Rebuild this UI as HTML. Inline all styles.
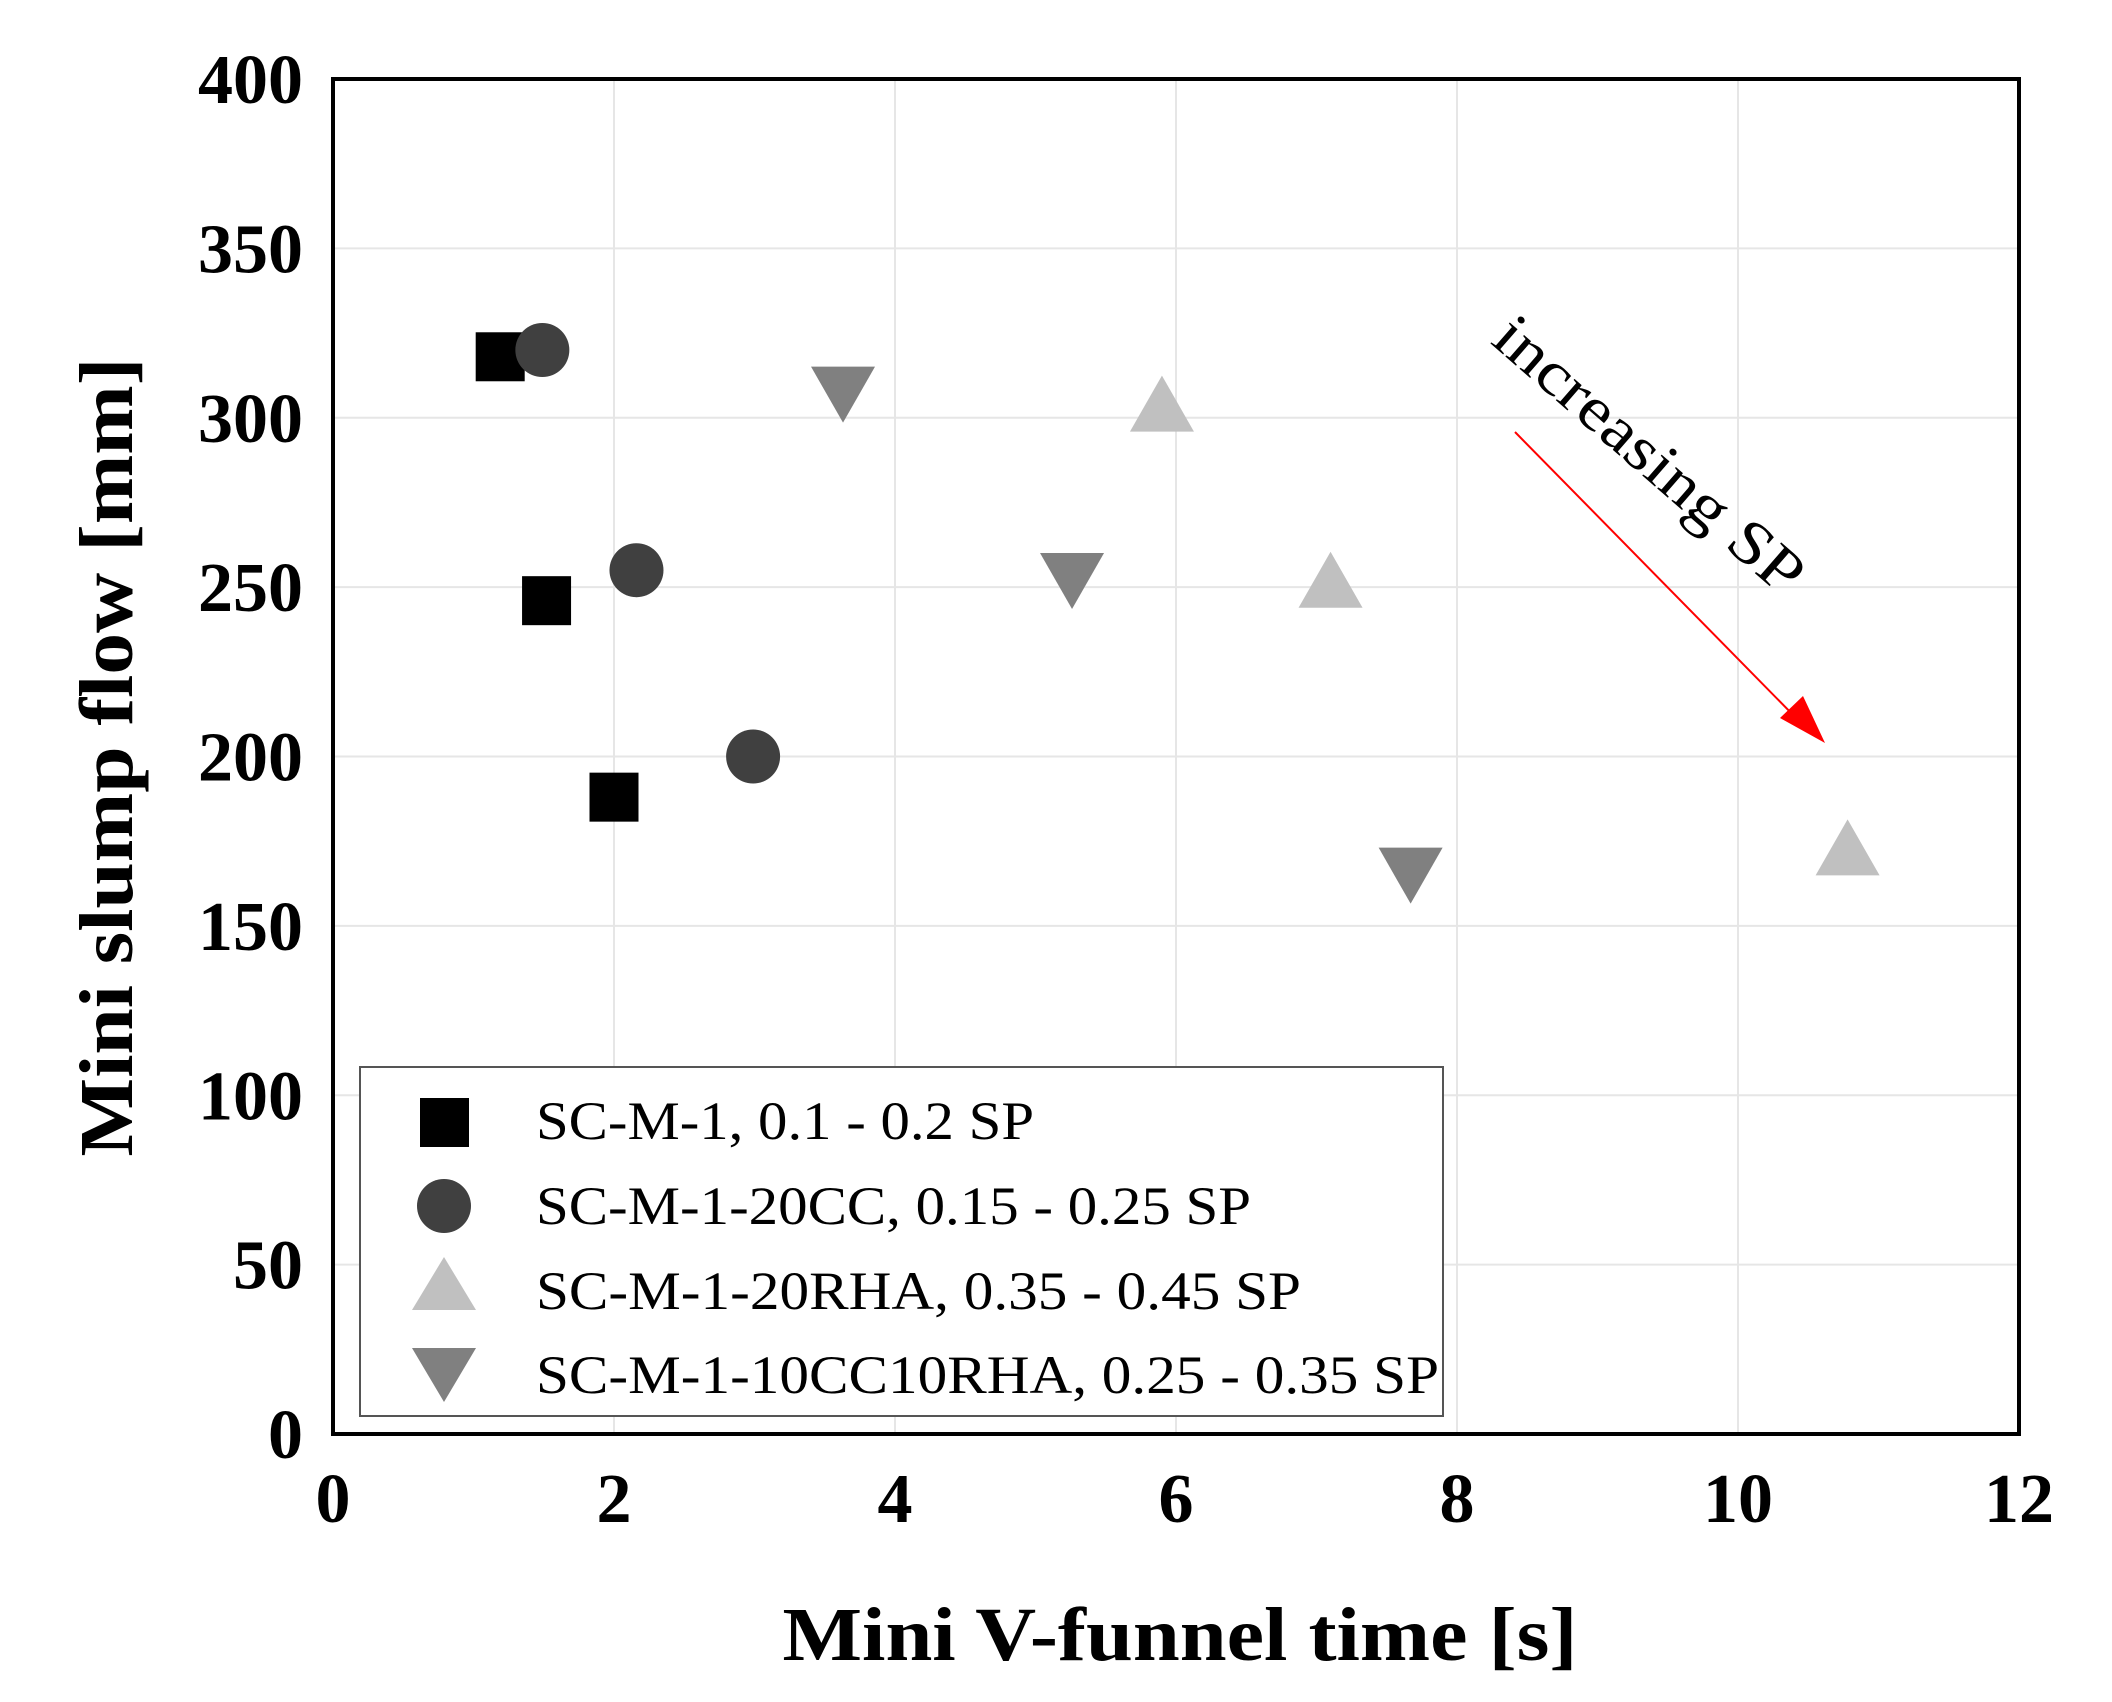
<!DOCTYPE html>
<html><head><meta charset="utf-8">
<style>
html,body{margin:0;padding:0;background:#fff;}
svg{display:block;}
text{font-family:"Liberation Serif",serif;}
</style></head>
<body>
<svg id="chart" width="2112" height="1702" viewBox="0 0 2112 1702" xmlns="http://www.w3.org/2000/svg">
<g id="grid"></g>
<g id="marks"></g>
<rect x="333" y="79" width="1686" height="1355" fill="none" stroke="#000" stroke-width="4"/>
<g id="ticks"></g>
<text transform="translate(132,757) rotate(-90)" text-anchor="middle" font-size="76" font-weight="bold" textLength="799" lengthAdjust="spacingAndGlyphs">Mini slump flow [mm]</text>
<text x="1180" y="1660" text-anchor="middle" font-size="76" font-weight="bold" textLength="795" lengthAdjust="spacingAndGlyphs">Mini V-funnel time [s]</text>
<g>
<text transform="translate(1636,470) rotate(41)" text-anchor="middle" font-size="62" textLength="389" lengthAdjust="spacingAndGlyphs">increasing SP</text>
<line x1="1515" y1="432" x2="1800" y2="722" stroke="#f00" stroke-width="2"/>
<polygon points="1825,743 1780,718 1803,696" fill="#f00"/>
</g>
<g>
<rect x="360" y="1067" width="1083" height="349" fill="#fff" stroke="#555" stroke-width="2"/>
<rect x="420" y="1098" width="49" height="49" fill="#000"/>
<text x="536" y="1139" font-size="54" textLength="498" lengthAdjust="spacingAndGlyphs">SC-M-1, 0.1 - 0.2 SP</text>
<circle cx="444" cy="1206" r="27" fill="#404040"/>
<text x="536" y="1224" font-size="54" textLength="715" lengthAdjust="spacingAndGlyphs">SC-M-1-20CC, 0.15 - 0.25 SP</text>
<polygon points="412,1310 476,1310 444,1257" fill="#c0c0c0"/>
<text x="536" y="1309" font-size="54" textLength="765" lengthAdjust="spacingAndGlyphs">SC-M-1-20RHA, 0.35 - 0.45 SP</text>
<polygon points="412,1348 476,1348 444,1402" fill="#808080"/>
<text x="536" y="1393" font-size="54" textLength="903" lengthAdjust="spacingAndGlyphs">SC-M-1-10CC10RHA, 0.25 - 0.35 SP</text>
</g>
</svg>
<script>
const xTicks=[0,2,4,6,8,10,12];
const yTicks=[0,50,100,150,200,250,300,350,400];
const squareX=[1.19,1.52,2.0];
const squareY=[318,246,188];
const circleX=[1.49,2.16,2.99];
const circleY=[320,255,200];
const upX=[5.9,7.1,10.78];
const upY=[303,251,172];
const downX=[3.63,5.26,7.67];
const downY=[308,253,166];

const NS="http://www.w3.org/2000/svg";
const X0=333,X1=2019,Y0=1434,Y1=79;
function sx(v){return X0+(v-0)/(12-0)*(X1-X0);}
function sy(v){return Y0-(v-0)/(400-0)*(Y0-Y1);}
const grid=document.getElementById('grid'),marks=document.getElementById('marks'),ticks=document.getElementById('ticks');
function mk(tag,attrs,parent){const e=document.createElementNS(NS,tag);for(const k in attrs)e.setAttribute(k,attrs[k]);parent.appendChild(e);return e;}
xTicks.forEach(t=>{
  const l=mk('line',{x1:sx(t),x2:sx(t),y1:Y1,y2:Y0,stroke:'#e6e6e6','stroke-width':2},grid);
  
  
  const tx=mk('text',{x:sx(t),y:1522,'text-anchor':'middle','font-size':70,'font-weight':'bold'},ticks);
  tx.textContent=t;
  
  
});
yTicks.forEach(t=>{
  const l=mk('line',{x1:X0,x2:X1,y1:sy(t),y2:sy(t),stroke:'#e6e6e6','stroke-width':2},grid);
  
  
  const tx=mk('text',{x:303,y:sy(t)+24,'text-anchor':'end','font-size':70,'font-weight':'bold'},ticks);
  tx.textContent=t;
  
  
});
squareX.forEach((v,i)=>{
  const e=mk('rect',{x:sx(v)-24.5,y:sy(squareY[i])-24.5,width:49,height:49,fill:'#000'},marks);
  
  
});
circleX.forEach((v,i)=>{
  const e=mk('circle',{cx:sx(v),cy:sy(circleY[i]),r:27,fill:'#404040'},marks);
  
  
});
upX.forEach((v,i)=>{
  const cx=sx(v),cy=sy(upY[i]);
  const e=mk('polygon',{points:`${cx-32},${cy+24} ${cx+32},${cy+24} ${cx},${cy-32}`,fill:'#c0c0c0'},marks);
  
  
});
downX.forEach((v,i)=>{
  const cx=sx(v),cy=sy(downY[i]);
  const e=mk('polygon',{points:`${cx-32},${cy-24} ${cx+32},${cy-24} ${cx},${cy+32}`,fill:'#808080'},marks);
  
  
});
</script>
</body></html>
